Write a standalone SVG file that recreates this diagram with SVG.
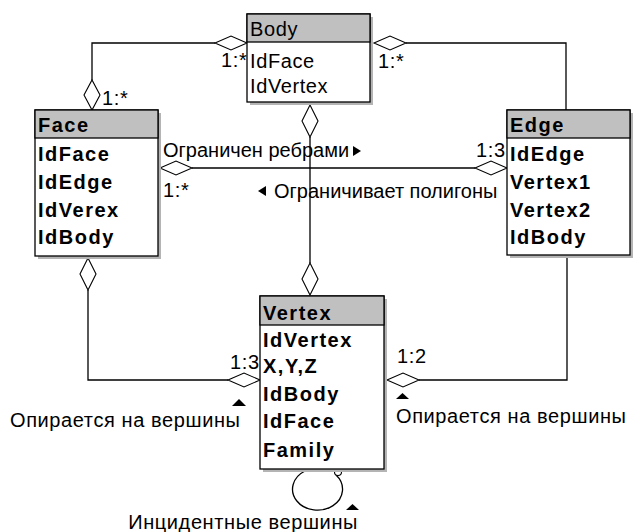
<svg xmlns="http://www.w3.org/2000/svg" width="634" height="532" viewBox="0 0 634 532">
<style>
.box{fill:#fff;stroke:#000;stroke-width:1.3}
.hdr{fill:#c0c0c0;stroke:#000;stroke-width:1.3}
.sh{fill:#b4b4b4}
.t{font-family:"Liberation Sans",Arial,sans-serif;font-size:20px;fill:#000;letter-spacing:0.6px}
.n{letter-spacing:0}
.b{font-weight:bold;letter-spacing:1.5px}
.ln{fill:none;stroke:#000;stroke-width:1.3}
.dm{fill:#fff;stroke:#000;stroke-width:1.1}
.tri{fill:#000}
</style>
<rect width="634" height="532" fill="#fff"/>
<g id="connectors">
  <path class="ln" d="M215,43 H92 V80"/>
  <polygon class="dm" points="247,43 231,36 215,43 231,50"/>
  <polygon class="dm" points="92,110 84,95 92,80 100,95"/>
  <path class="ln" d="M406,43 H566 V110"/>
  <polygon class="dm" points="374,43 390,36 406,43 390,50"/>
  <path class="ln" d="M192,168 H475"/>
  <polygon class="dm" points="160,168 176,161 192,168 176,175"/>
  <polygon class="dm" points="475,168 491,161 507,168 491,175"/>
  <path class="ln" d="M310,102 V105 M310,137 V263"/>
  <polygon class="dm" points="310,105 318,121 310,137 302,121"/>
  <polygon class="dm" points="310,263 318,279 310,295 302,279"/>
  <path class="ln" d="M88,290 V380 H228"/>
  <polygon class="dm" points="88,258 96,274 88,290 80,274"/>
  <polygon class="dm" points="228,380 244,373 260,380 244,387"/>
  <path class="ln" d="M419,380 H567 V256"/>
  <polygon class="dm" points="387,380 403,373 419,380 403,387"/>
  <path class="ln" d="M305,471 A25,21 0 1,0 336,475"/>
  <circle class="dm" cx="338" cy="472" r="3.5"/>
  <text class="t" x="221" y="67">1:*</text>
  <text class="t" x="102" y="105">1:*</text>
  <text class="t" x="378" y="68">1:*</text>
  <text class="t n" x="163" y="157">Ограничен ребрами</text>
  <polygon class="tri" points="353,146 361,151 353,156"/>
  <text class="t" x="476" y="157">1:3</text>
  <text class="t" x="163" y="197">1:*</text>
  <polygon class="tri" points="266,186 258,191 266,196"/>
  <text class="t n" x="274" y="198">Ограничивает полигоны</text>
  <text class="t" x="230" y="369">1:3</text>
  <polygon class="tri" points="232,406 246,406 239,399"/>
  <text class="t" x="10" y="427">Опирается на вершины</text>
  <text class="t" x="397" y="363">1:2</text>
  <polygon class="tri" points="396,399 409,399 402.5,393"/>
  <text class="t" x="396" y="423">Опирается на вершины</text>
  <polygon class="tri" points="346,510 359,510 352.5,504"/>
  <text class="t" x="358" y="529" text-anchor="end">Инцидентные вершины</text>
</g>
<g id="body">
  <rect class="sh" x="250" y="17" width="123" height="88"/>
  <rect class="box" x="247" y="14" width="123" height="88"/>
  <rect class="hdr" x="247" y="14" width="123" height="28"/>
  <text class="t" x="250" y="36">Body</text>
  <text class="t" x="250" y="68">IdFace</text>
  <text class="t" x="250" y="93">IdVertex</text>
</g>
<g id="face">
  <rect class="sh" x="38" y="113" width="123" height="146"/>
  <rect class="box" x="35" y="110" width="123" height="146"/>
  <rect class="hdr" x="35" y="110" width="123" height="28"/>
  <text class="t b" x="38" y="132">Face</text>
  <text class="t b" x="38" y="161">IdFace</text>
  <text class="t b" x="38" y="189">IdEdge</text>
  <text class="t b" x="38" y="217">IdVerex</text>
  <text class="t b" x="38" y="244">IdBody</text>
</g>
<g id="edge">
  <rect class="sh" x="510" y="113" width="123" height="145"/>
  <rect class="box" x="507" y="110" width="123" height="145"/>
  <rect class="hdr" x="507" y="110" width="123" height="28"/>
  <text class="t b" x="510" y="132">Edge</text>
  <text class="t b" x="510" y="161">IdEdge</text>
  <text class="t b" x="510" y="189">Vertex1</text>
  <text class="t b" x="510" y="217">Vertex2</text>
  <text class="t b" x="510" y="244">IdBody</text>
</g>
<g id="vertex">
  <rect class="sh" x="263" y="299" width="124" height="173"/>
  <rect class="box" x="260" y="296" width="124" height="173"/>
  <rect class="hdr" x="260" y="296" width="124" height="29"/>
  <text class="t b" x="263" y="320">Vertex</text>
  <text class="t b" x="263" y="347">IdVertex</text>
  <text class="t b" x="263" y="373">X,Y,Z</text>
  <text class="t b" x="263" y="401">IdBody</text>
  <text class="t b" x="263" y="428">IdFace</text>
  <text class="t b" x="263" y="457">Family</text>
</g>
</svg>
